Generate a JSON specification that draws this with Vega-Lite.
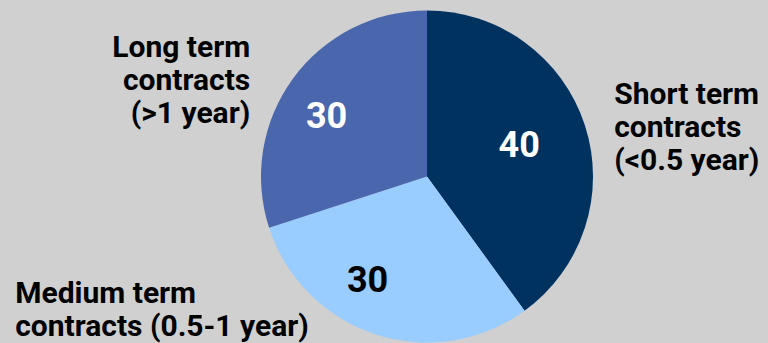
{
  "$schema": "https://vega.github.io/schema/vega-lite/v6.json",
  "width": 682,
  "height": 333,
  "autosize": {"type": "none"},
  "padding": {"left": 86, "top": 10, "right": 0, "bottom": 0},
  "background": "#d0d0d0",
  "config": {"view": {"stroke": null}},
  "data": {
    "values": [
      {"category": "Short term contracts (<0.5 year)", "label": "Short term\ncontracts\n(<0.5 year)", "value": 40, "rank": 1},
      {"category": "Medium term contracts (0.5-1 year)", "label": "Medium term\ncontracts (0.5-1 year)", "value": 30, "rank": 2},
      {"category": "Long term contracts (>1 year)", "label": "Long term\ncontracts\n(>1 year)", "value": 30, "rank": 3}
    ]
  },
  "encoding": {
    "theta": {"field": "value", "type": "quantitative", "stack": true},
    "order": {"field": "rank", "type": "quantitative"}
  },
  "layer": [
    {
      "mark": {"type": "arc", "outerRadius": 166},
      "encoding": {
        "color": {
          "field": "category",
          "type": "nominal",
          "scale": {
            "domain": ["Short term contracts (<0.5 year)", "Medium term contracts (0.5-1 year)", "Long term contracts (>1 year)"],
            "range": ["#00325f", "#99ccff", "#4a66ac"]
          },
          "legend": null
        }
      }
    },
    {
      "mark": {"type": "text", "radius": 118, "dx": -20, "dy": 6, "fontSize": 36, "fontWeight": "bold", "font": "Roboto", "fill": "#ffffff", "align": "center", "baseline": "middle"},
      "encoding": {"text": {"condition": {"test": "datum.rank === 1", "field": "value", "type": "quantitative"}, "value": ""}}
    },
    {
      "mark": {"type": "text", "radius": 118, "dx": -23, "dy": -8, "fontSize": 36, "fontWeight": "bold", "font": "Roboto", "fill": "#000000", "align": "center", "baseline": "middle"},
      "encoding": {"text": {"condition": {"test": "datum.rank === 2", "field": "value", "type": "quantitative"}, "value": ""}}
    },
    {
      "mark": {"type": "text", "radius": 118, "dx": -5, "dy": 10, "fontSize": 36, "fontWeight": "bold", "font": "Roboto", "fill": "#ffffff", "align": "center", "baseline": "middle"},
      "encoding": {"text": {"condition": {"test": "datum.rank === 3", "field": "value", "type": "quantitative"}, "value": ""}}
    },
    {
      "mark": {"type": "text", "radius": 200, "dx": -3, "dy": -11, "fontSize": 30, "fontWeight": "bold", "font": "Roboto", "fill": "#000000", "align": "left", "baseline": "alphabetic", "lineBreak": "\n", "lineHeight": 33},
      "encoding": {"text": {"condition": {"test": "datum.rank === 1", "field": "label", "type": "nominal"}, "value": ""}}
    },
    {
      "mark": {"type": "text", "radius": 200, "dx": -350, "dy": -64, "fontSize": 30, "fontWeight": "bold", "font": "Roboto", "fill": "#000000", "align": "left", "baseline": "alphabetic", "lineBreak": "\n", "lineHeight": 33},
      "encoding": {"text": {"condition": {"test": "datum.rank === 2", "field": "label", "type": "nominal"}, "value": ""}}
    },
    {
      "mark": {"type": "text", "radius": 200, "dx": -15, "dy": -2, "fontSize": 30, "fontWeight": "bold", "font": "Roboto", "fill": "#000000", "align": "right", "baseline": "alphabetic", "lineBreak": "\n", "lineHeight": 33},
      "encoding": {"text": {"condition": {"test": "datum.rank === 3", "field": "label", "type": "nominal"}, "value": ""}}
    }
  ]
}
